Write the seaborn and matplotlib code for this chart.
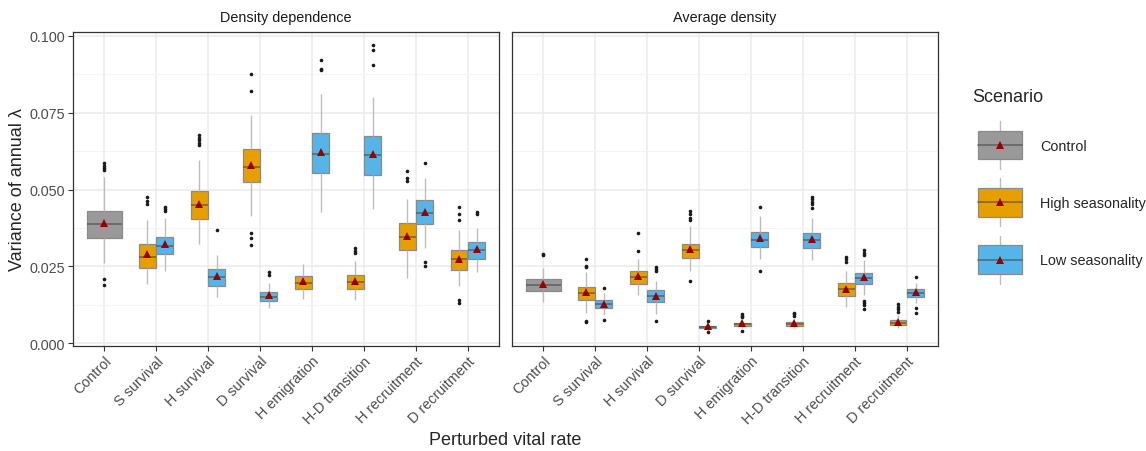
import numpy as np
import pandas as pd
import matplotlib
matplotlib.use("Agg")
import matplotlib.pyplot as plt
import seaborn as sns
from matplotlib.patches import Patch, Rectangle
from matplotlib.lines import Line2D
from matplotlib.legend_handler import HandlerBase

rates = ["Control", "S survival", "H survival", "D survival", "H emigration",
         "H-D transition", "H recruitment", "D recruitment"]
panels = ["Density dependence", "Average density"]
scenarios = ["Control", "High seasonality", "Low seasonality"]
colors = {"Control": "#999999", "High seasonality": "#E69F00", "Low seasonality": "#56B4E9"}
mean_color = "#990000"

# box summaries: (lower whisker, Q1, median, Q3, upper whisker)
# order of the 7 non-control rows: S surv, H surv, D surv, H emig, H-D trans, H recr, D recr

# --- Density dependence ---
dd_ctrl = (0.0262, 0.0344, 0.0389, 0.0430, 0.0541)
dd_ctrl_mean = 0.0391
dd_ctrl_out = [0.0586, 0.0577, 0.0569, 0.0563, 0.0210, 0.0190]

dd_high = [
    (0.0192, 0.0244, 0.0282, 0.0322, 0.0400),
    (0.0322, 0.0403, 0.0449, 0.0497, 0.0595),
    (0.0414, 0.0525, 0.0574, 0.0633, 0.0743),
    (0.0145, 0.0177, 0.0197, 0.0219, 0.0259),
    (0.0141, 0.0176, 0.0198, 0.0221, 0.0269),
    (0.0213, 0.0303, 0.0347, 0.0390, 0.0469),
    (0.0187, 0.0239, 0.0273, 0.0302, 0.0368),
]
dd_high_mean = [0.0289, 0.0454, 0.0580, 0.0203, 0.0203, 0.0349, 0.0275]
dd_high_out = [
    [0.0477, 0.0463, 0.0453],
    [0.0677, 0.0669, 0.0662, 0.0653, 0.0645],
    [0.0875, 0.0821, 0.0358, 0.0341, 0.0320],
    [],
    [0.0309, 0.0300, 0.0294],
    [0.0559, 0.0539, 0.0528],
    [0.0444, 0.0422, 0.0400, 0.0140, 0.0130],
]

dd_low = [
    (0.0235, 0.0292, 0.0317, 0.0346, 0.0406),
    (0.0151, 0.0187, 0.0216, 0.0241, 0.0288),
    (0.0116, 0.0138, 0.0151, 0.0168, 0.0197),
    (0.0427, 0.0553, 0.0615, 0.0683, 0.0811),
    (0.0436, 0.0547, 0.0612, 0.0675, 0.0803),
    (0.0310, 0.0387, 0.0425, 0.0465, 0.0539),
    (0.0232, 0.0275, 0.0304, 0.0329, 0.0374),
]
dd_low_mean = [0.0322, 0.0219, 0.0156, 0.0621, 0.0616, 0.0427, 0.0306]
dd_low_out = [
    [0.0443, 0.0437, 0.0431],
    [0.0368],
    [0.0232, 0.0223],
    [0.0922, 0.0894, 0.0889],
    [0.0971, 0.0954, 0.0905],
    [0.0586, 0.0265, 0.0252],
    [0.0427, 0.0420],
]

# --- Average density ---
ad_ctrl = (0.0134, 0.0169, 0.0190, 0.0210, 0.0246)
ad_ctrl_mean = 0.0192
ad_ctrl_out = [0.0286, 0.0290]

ad_high = [
    (0.0100, 0.0141, 0.0163, 0.0183, 0.0232),
    (0.0156, 0.0194, 0.0216, 0.0235, 0.0273),
    (0.0235, 0.0278, 0.0303, 0.0324, 0.0382),
    (0.0048, 0.0057, 0.0063, 0.0067, 0.0080),
    (0.0048, 0.0056, 0.0063, 0.0069, 0.0078),
    (0.0118, 0.0154, 0.0176, 0.0197, 0.0235),
    (0.0049, 0.0060, 0.0067, 0.0076, 0.0091),
]
ad_high_mean = [0.0167, 0.0219, 0.0306, 0.0065, 0.0065, 0.0178, 0.0070]
ad_high_out = [
    [0.0273, 0.0251, 0.0248, 0.0073, 0.0070],
    [0.0360, 0.0300],
    [0.0431, 0.0420, 0.0409, 0.0400, 0.0203],
    [0.0094, 0.0090, 0.0087, 0.0040],
    [0.0100, 0.0095, 0.0090],
    [0.0281, 0.0273, 0.0266],
    [0.0127, 0.0119, 0.0111, 0.0102],
]

ad_low = [
    (0.0093, 0.0115, 0.0127, 0.0140, 0.0162),
    (0.0094, 0.0133, 0.0153, 0.0172, 0.0203),
    (0.0040, 0.0049, 0.0053, 0.0056, 0.0064),
    (0.0273, 0.0313, 0.0337, 0.0363, 0.0414),
    (0.0271, 0.0309, 0.0335, 0.0360, 0.0409),
    (0.0156, 0.0192, 0.0211, 0.0227, 0.0271),
    (0.0132, 0.0152, 0.0165, 0.0176, 0.0197),
]
ad_low_mean = [0.0129, 0.0155, 0.0055, 0.0344, 0.0338, 0.0214, 0.0167]
ad_low_out = [
    [0.0180, 0.0075],
    [0.0248, 0.0241, 0.0236, 0.0073],
    [0.0073, 0.0035],
    [0.0444, 0.0236],
    [0.0476, 0.0469, 0.0461, 0.0453, 0.0439],
    [0.0303, 0.0295, 0.0287, 0.0138, 0.0130, 0.0124, 0.0113],
    [0.0214, 0.0114, 0.0100],
]


def sample_from_summary(five, outliers):
    # small sample whose quartiles/whiskers reproduce the summary exactly
    lo, q1, med, q3, hi = five
    low = sorted(v for v in outliers if v < q1)
    high = sorted(v for v in outliers if v > q3)
    m = max(len(low), len(high)) + 2
    return (low + [lo] + [q1] * (m - len(low)) + [med] * m
            + [q3] * (2 * m - len(high) - 1) + [hi] + high)


panel_data = {
    "Density dependence": (dd_ctrl, dd_ctrl_mean, dd_ctrl_out, dd_high, dd_high_mean,
                           dd_high_out, dd_low, dd_low_mean, dd_low_out),
    "Average density": (ad_ctrl, ad_ctrl_mean, ad_ctrl_out, ad_high, ad_high_mean,
                        ad_high_out, ad_low, ad_low_mean, ad_low_out),
}

rows, mrows = [], []
for panel, (c5, cm, co, h5, hm, ho, l5, lm, lo_) in panel_data.items():
    for v in sample_from_summary(c5, co):
        rows.append((panel, "Control", "Control", v))
    mrows.append((panel, "Control", "Control", cm))
    for i, rate in enumerate(rates[1:]):
        for v in sample_from_summary(h5[i], ho[i]):
            rows.append((panel, rate, "High seasonality", v))
        for v in sample_from_summary(l5[i], lo_[i]):
            rows.append((panel, rate, "Low seasonality", v))
        mrows.append((panel, rate, "High seasonality", hm[i]))
        mrows.append((panel, rate, "Low seasonality", lm[i]))

df = pd.DataFrame(rows, columns=["panel", "rate", "scenario", "value"])
means = pd.DataFrame(mrows, columns=["panel", "rate", "scenario", "mean"])

sns.set_theme(style="white")
plt.rcParams["font.family"] = ["Liberation Sans", "DejaVu Sans"]

fig = plt.figure(figsize=(11.46, 4.52), dpi=100)
W, H = 1146, 452
ax_l = fig.add_axes([73 / W, 1 - 347 / H, 426 / W, 314 / H])
ax_r = fig.add_axes([512 / W, 1 - 347 / H, 426 / W, 314 / H])

small = 10.4
big = 13

box_kws = dict(
    width=0.68, showcaps=False, saturation=1, linewidth=0.9, linecolor="#8a8a8a",
    whiskerprops={"color": "#bdbdbd", "linewidth": 1.0},
    medianprops={"color": (0.25, 0.25, 0.25, 0.55), "linewidth": 1.3},
    flierprops={"marker": "o", "markersize": 2.6, "markerfacecolor": "#1a1a1a",
                "markeredgecolor": "#1a1a1a", "markeredgewidth": 0},
)
mean_kws = dict(markers="^", linestyles="none", errorbar=None, markersize=6,
                markeredgewidth=0, zorder=6)

hl = ["High seasonality", "Low seasonality"]
for ax, panel in zip([ax_l, ax_r], panels):
    sub = df[df["panel"] == panel]
    msub = means[means["panel"] == panel]
    sns.boxplot(data=sub[sub["scenario"] == "Control"], x="rate", y="value", order=rates,
                color=colors["Control"], ax=ax, **box_kws)
    sns.boxplot(data=sub[sub["scenario"] != "Control"], x="rate", y="value", hue="scenario",
                order=rates, hue_order=hl, palette=[colors[s] for s in hl], dodge=True,
                gap=0.04, legend=False, ax=ax, **box_kws)
    sns.pointplot(data=msub[msub["scenario"] == "Control"], x="rate", y="mean", order=rates,
                  color=mean_color, ax=ax, **mean_kws)
    sns.pointplot(data=msub[msub["scenario"] != "Control"], x="rate", y="mean", hue="scenario",
                  order=rates, hue_order=hl, palette=[mean_color, mean_color], dodge=0.34,
                  legend=False, ax=ax, **mean_kws)

    ax.set_xlim(-0.6, 7.6)
    ax.set_ylim(-0.0009, 0.1013)
    ax.set_yticks([0, 0.025, 0.05, 0.075, 0.1])
    ax.set_yticks([0.0125, 0.0375, 0.0625, 0.0875], minor=True)
    ax.set_yticklabels(["0.000", "0.025", "0.050", "0.075", "0.100"])
    ax.set_xticks(range(len(rates)))
    ax.set_xticklabels(rates, rotation=45, ha="right", rotation_mode="anchor")
    ax.grid(which="major", color="#EBEBEB", linewidth=1.1)
    ax.grid(which="minor", axis="y", color="#F3F3F3", linewidth=0.6)
    ax.set_axisbelow(True)
    ax.tick_params(which="major", length=3.5, width=0.8, color="#333333",
                   labelsize=small, labelcolor="#4D4D4D", pad=2,
                   bottom=True, left=True)
    ax.tick_params(which="minor", length=0)
    for s in ax.spines.values():
        s.set_color("#333333")
        s.set_linewidth(0.9)
    ax.set_xlabel("")
    ax.set_ylabel("")
    ax.text(0.5, 1 + 15 / 314, panel, transform=ax.transAxes, ha="center", va="center",
            fontsize=small, color="#1A1A1A")

ax_r.tick_params(axis="y", left=False, labelleft=False)

fig.text(18 / W, 1 - 190 / H, "Variance of annual λ", rotation=90, ha="center", va="center",
         fontsize=big)
fig.text(505 / W, 1 - 441 / H, "Perturbed vital rate", ha="center", va="center", fontsize=big)


class BoxKey(HandlerBase):
    def create_artists(self, legend, orig_handle, xdescent, ydescent, width, height,
                       fontsize, trans):
        x0, y0 = -xdescent, -ydescent
        cx, cy = x0 + width / 2, y0 + height / 2
        whisker = Line2D([cx, cx], [y0 - 0.35 * height, y0 + 1.35 * height],
                         color="#bdbdbd", linewidth=1.0, transform=trans)
        box = Rectangle((x0, y0), width, height, facecolor=orig_handle.get_facecolor(),
                        edgecolor="#8a8a8a", linewidth=0.9, transform=trans)
        med = Line2D([x0, x0 + width], [cy, cy], color=(0.25, 0.25, 0.25, 0.55),
                     linewidth=1.3, transform=trans)
        tri = Line2D([cx], [cy], marker="^", markersize=6, markeredgewidth=0,
                     color=mean_color, linestyle="none", transform=trans)
        return [whisker, box, med, tri]


fig.text(972 / W, 1 - 98 / H, "Scenario", ha="left", va="center", fontsize=big)
handles = [Patch(facecolor=colors[s]) for s in scenarios]
fig.legend(handles, scenarios, loc="upper left",
           bbox_to_anchor=(965 / W, 1 - 119 / H), frameon=False,
           handler_map={Patch: BoxKey()}, handlelength=3.05, handleheight=2.64,
           labelspacing=2.0, handletextpad=1.25, fontsize=small)

fig.savefig("out.png", dpi=100)
